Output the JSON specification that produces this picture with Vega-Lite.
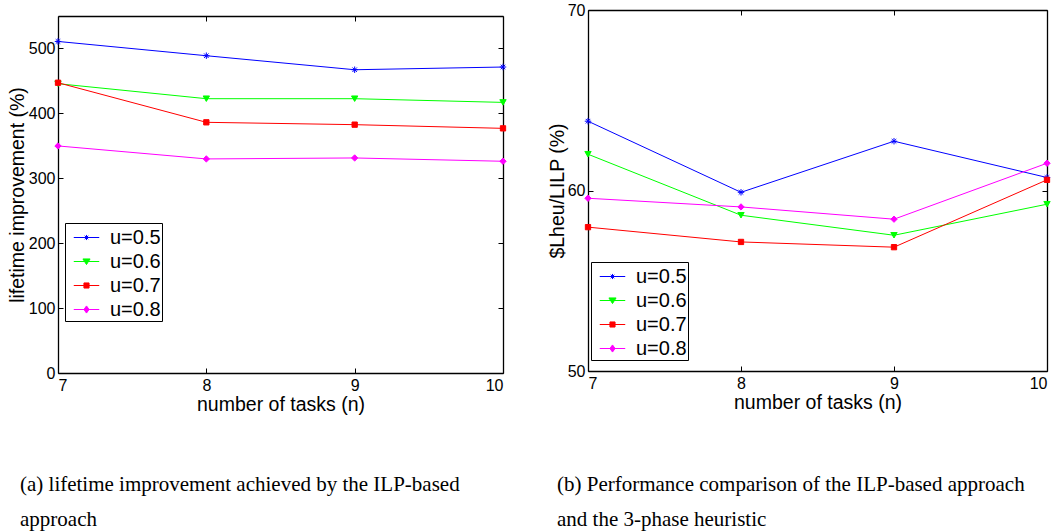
{
  "$schema": "https://vega.github.io/schema/vega-lite/v6.json",
  "background": "white",
  "padding": {"left": 7, "top": 2, "right": 5, "bottom": 5},
  "config": {
    "font": "Liberation Sans",
    "view": {"stroke": null},
    "axis": {
      "grid": false,
      "domainColor": "black",
      "domainWidth": 1.3,
      "tickColor": "black",
      "tickWidth": 1,
      "tickSize": -5,
      "labelPadding": 8,
      "labelColor": "black",
      "labelFont": "Liberation Sans",
      "labelFontSize": 16,
      "titleColor": "black",
      "titleFont": "Liberation Sans",
      "titleFontSize": 19.5,
      "titleFontWeight": "normal"
    },
    "legend": {
      "strokeColor": "black",
      "fillColor": "white",
      "padding": 1,
      "symbolOffset": 7,
      "rowPadding": 0,
      "labelOffset": 10,
      "symbolSize": 650,
      "symbolStrokeWidth": 1,
      "labelFont": "Liberation Sans",
      "labelFontSize": 20,
      "labelColor": "black"
    },
    "title": {
      "font": "Liberation Serif",
      "fontSize": 21,
      "fontWeight": "normal",
      "color": "black"
    }
  },
  "datasets": {
    "a": [
      {"n": 7, "u": "u=0.5", "v": 510.8}, {"n": 8, "u": "u=0.5", "v": 488.8}, {"n": 9, "u": "u=0.5", "v": 467.2}, {"n": 10, "u": "u=0.5", "v": 471.4},
      {"n": 7, "u": "u=0.6", "v": 445.7}, {"n": 8, "u": "u=0.6", "v": 422.6}, {"n": 9, "u": "u=0.6", "v": 422.6}, {"n": 10, "u": "u=0.6", "v": 416.9},
      {"n": 7, "u": "u=0.7", "v": 447.2}, {"n": 8, "u": "u=0.7", "v": 386.2}, {"n": 9, "u": "u=0.7", "v": 382.6}, {"n": 10, "u": "u=0.7", "v": 376.9},
      {"n": 7, "u": "u=0.8", "v": 349.8}, {"n": 8, "u": "u=0.8", "v": 329.8}, {"n": 9, "u": "u=0.8", "v": 331.3}, {"n": 10, "u": "u=0.8", "v": 326.2}
    ],
    "b": [
      {"n": 7, "u": "u=0.5", "v": 63.84}, {"n": 8, "u": "u=0.5", "v": 59.9}, {"n": 9, "u": "u=0.5", "v": 62.73}, {"n": 10, "u": "u=0.5", "v": 60.72},
      {"n": 7, "u": "u=0.6", "v": 62.01}, {"n": 8, "u": "u=0.6", "v": 58.63}, {"n": 9, "u": "u=0.6", "v": 57.52}, {"n": 10, "u": "u=0.6", "v": 59.24},
      {"n": 7, "u": "u=0.7", "v": 57.97}, {"n": 8, "u": "u=0.7", "v": 57.15}, {"n": 9, "u": "u=0.7", "v": 56.86}, {"n": 10, "u": "u=0.7", "v": 60.59},
      {"n": 7, "u": "u=0.8", "v": 59.57}, {"n": 8, "u": "u=0.8", "v": 59.09}, {"n": 9, "u": "u=0.8", "v": 58.41}, {"n": 10, "u": "u=0.8", "v": 61.51}
    ]
  },
  "hconcat": [
    {
      "width": 445,
      "height": 363,
      "data": {"name": "a"},
      "title": {
        "text": ["(a) lifetime improvement achieved by the ILP-based", "approach"],
        "orient": "bottom",
        "anchor": "start",
        "frame": "group",
        "dx": -38,
        "offset": 60,
        "lineHeight": 35
      },
      "layer": [
        {
          "mark": {"type": "line", "strokeWidth": 1},
          "encoding": {
            "x": {"field": "n", "type": "quantitative", "scale": {"domain": [7, 10], "nice": false},
                  "axis": {"orient": "bottom", "values": [7, 8, 9, 10], "format": "d", "title": "number of tasks (n)", "titlePadding": 2, "labelPadding": 9}},
            "y": {"field": "v", "type": "quantitative", "scale": {"domain": [0, 550], "nice": false, "range": [363, 6]},
                  "axis": {"orient": "left", "values": [0, 100, 200, 300, 400, 500], "title": "lifetime improvement (%)", "titlePadding": 1}},
            "stroke": {"field": "u", "type": "nominal",
                       "scale": {"domain": ["u=0.5", "u=0.6", "u=0.7", "u=0.8"], "range": ["#0000ff", "#00ff00", "#ff0000", "#ff00ff"]},
                       "legend": {"orient": "none", "legendX": 7, "legendY": 213, "title": null}}
          }
        },
        {
          "transform": [{"filter": "datum.u === 'u=0.5'"}],
          "mark": {"type": "point", "shape": "M-1,0L1,0M0,-1L0,1M-0.7,-0.7L0.7,0.7M-0.7,0.7L0.7,-0.7", "filled": false, "stroke": "#0000ff", "strokeWidth": 1, "size": 42, "opacity": 1},
          "encoding": {
            "x": {"field": "n", "type": "quantitative", "axis": {"orient": "top", "values": [7, 8, 9, 10], "labels": false, "title": null, "offset": -6}},
            "y": {"field": "v", "type": "quantitative", "axis": {"orient": "right", "values": [0, 100, 200, 300, 400, 500], "labels": false, "title": null}}
          }
        },
        {
          "transform": [{"filter": "datum.u === 'u=0.6'"}],
          "mark": {"type": "point", "shape": "triangle-down", "filled": true, "fill": "#00ff00", "stroke": "#00ff00", "strokeWidth": 1, "size": 40, "opacity": 1},
          "encoding": {
            "x": {"field": "n", "type": "quantitative", "axis": null},
            "y": {"field": "v", "type": "quantitative", "axis": null}
          }
        },
        {
          "transform": [{"filter": "datum.u === 'u=0.7'"}],
          "mark": {"type": "point", "shape": "square", "filled": true, "fill": "#ff0000", "stroke": "#ff0000", "strokeWidth": 1, "size": 28, "opacity": 1},
          "encoding": {
            "x": {"field": "n", "type": "quantitative", "axis": null},
            "y": {"field": "v", "type": "quantitative", "axis": null}
          }
        },
        {
          "transform": [{"filter": "datum.u === 'u=0.8'"}],
          "mark": {"type": "point", "shape": "diamond", "filled": true, "fill": "#ff00ff", "stroke": "#ff00ff", "strokeWidth": 1, "size": 40, "opacity": 1},
          "encoding": {
            "x": {"field": "n", "type": "quantitative", "axis": null},
            "y": {"field": "v", "type": "quantitative", "axis": null}
          }
        },
        {
          "transform": [{"filter": "false"}],
          "mark": {"type": "point", "filled": true, "strokeWidth": 1, "opacity": 1},
          "encoding": {
            "x": {"field": "n", "type": "quantitative", "axis": null},
            "y": {"field": "v", "type": "quantitative", "axis": null},
            "fill": {"field": "u", "type": "nominal",
                     "scale": {"domain": ["u=0.5", "u=0.6", "u=0.7", "u=0.8"], "range": ["#0000ff", "#00ff00", "#ff0000", "#ff00ff"]},
                     "legend": {"orient": "none", "legendX": 7, "legendY": 213, "title": null}},
            "stroke": {"field": "u", "type": "nominal",
                       "legend": {"orient": "none", "legendX": 7, "legendY": 213, "title": null}},
            "shape": {"field": "u", "type": "nominal",
                      "scale": {"domain": ["u=0.5", "u=0.6", "u=0.7", "u=0.8"],
                                "range": ["M-1,0H1M-0.2,0H0.2M0,-0.2V0.2M-0.14,-0.14L0.14,0.14M-0.14,0.14L0.14,-0.14",
                                          "M-1,0H1M-0.28,-0.2H0.28L0,0.24Z",
                                          "M-1,0H1M-0.2,-0.2H0.2V0.2H-0.2Z",
                                          "M-1,0H1M0,-0.28L0.2,0L0,0.28L-0.2,0Z"]},
                      "legend": {"orient": "none", "legendX": 7, "legendY": 213, "title": null}}
          }
        }
      ],
      "resolve": {"axis": {"x": "independent", "y": "independent"}}
    },
    {
      "width": 459,
      "height": 361,
      "data": {"name": "b"},
      "title": {
        "text": ["(b) Performance comparison of the ILP-based approach", "and the 3-phase heuristic"],
        "orient": "bottom",
        "anchor": "start",
        "frame": "group",
        "dx": -31,
        "offset": 62,
        "lineHeight": 35
      },
      "layer": [
        {
          "mark": {"type": "line", "strokeWidth": 1},
          "encoding": {
            "x": {"field": "n", "type": "quantitative", "scale": {"domain": [7, 10], "nice": false},
                  "axis": {"orient": "bottom", "values": [7, 8, 9, 10], "format": "d", "title": "number of tasks (n)", "titlePadding": 2, "labelPadding": 9}},
            "y": {"field": "v", "type": "quantitative", "scale": {"domain": [50, 70], "nice": false, "zero": false},
                  "axis": {"orient": "left", "values": [50, 60, 70], "title": "$Lheu/LILP (%)", "titlePadding": 0}},
            "stroke": {"field": "u", "type": "nominal",
                       "scale": {"domain": ["u=0.5", "u=0.6", "u=0.7", "u=0.8"], "range": ["#0000ff", "#00ff00", "#ff0000", "#ff00ff"]},
                       "legend": {"orient": "none", "legendX": 3, "legendY": 252, "title": null}}
          }
        },
        {
          "transform": [{"filter": "datum.u === 'u=0.5'"}],
          "mark": {"type": "point", "shape": "M-1,0L1,0M0,-1L0,1M-0.7,-0.7L0.7,0.7M-0.7,0.7L0.7,-0.7", "filled": false, "stroke": "#0000ff", "strokeWidth": 1, "size": 42, "opacity": 1},
          "encoding": {
            "x": {"field": "n", "type": "quantitative", "axis": {"orient": "top", "values": [7, 8, 9, 10], "labels": false, "title": null}},
            "y": {"field": "v", "type": "quantitative", "axis": {"orient": "right", "values": [50, 60, 70], "labels": false, "title": null}}
          }
        },
        {
          "transform": [{"filter": "datum.u === 'u=0.6'"}],
          "mark": {"type": "point", "shape": "triangle-down", "filled": true, "fill": "#00ff00", "stroke": "#00ff00", "strokeWidth": 1, "size": 40, "opacity": 1},
          "encoding": {
            "x": {"field": "n", "type": "quantitative", "axis": null},
            "y": {"field": "v", "type": "quantitative", "axis": null}
          }
        },
        {
          "transform": [{"filter": "datum.u === 'u=0.7'"}],
          "mark": {"type": "point", "shape": "square", "filled": true, "fill": "#ff0000", "stroke": "#ff0000", "strokeWidth": 1, "size": 28, "opacity": 1},
          "encoding": {
            "x": {"field": "n", "type": "quantitative", "axis": null},
            "y": {"field": "v", "type": "quantitative", "axis": null}
          }
        },
        {
          "transform": [{"filter": "datum.u === 'u=0.8'"}],
          "mark": {"type": "point", "shape": "diamond", "filled": true, "fill": "#ff00ff", "stroke": "#ff00ff", "strokeWidth": 1, "size": 40, "opacity": 1},
          "encoding": {
            "x": {"field": "n", "type": "quantitative", "axis": null},
            "y": {"field": "v", "type": "quantitative", "axis": null}
          }
        },
        {
          "transform": [{"filter": "false"}],
          "mark": {"type": "point", "filled": true, "strokeWidth": 1, "opacity": 1},
          "encoding": {
            "x": {"field": "n", "type": "quantitative", "axis": null},
            "y": {"field": "v", "type": "quantitative", "axis": null},
            "fill": {"field": "u", "type": "nominal",
                     "scale": {"domain": ["u=0.5", "u=0.6", "u=0.7", "u=0.8"], "range": ["#0000ff", "#00ff00", "#ff0000", "#ff00ff"]},
                     "legend": {"orient": "none", "legendX": 3, "legendY": 252, "title": null}},
            "stroke": {"field": "u", "type": "nominal",
                       "legend": {"orient": "none", "legendX": 3, "legendY": 252, "title": null}},
            "shape": {"field": "u", "type": "nominal",
                      "scale": {"domain": ["u=0.5", "u=0.6", "u=0.7", "u=0.8"],
                                "range": ["M-1,0H1M-0.2,0H0.2M0,-0.2V0.2M-0.14,-0.14L0.14,0.14M-0.14,0.14L0.14,-0.14",
                                          "M-1,0H1M-0.28,-0.2H0.28L0,0.24Z",
                                          "M-1,0H1M-0.2,-0.2H0.2V0.2H-0.2Z",
                                          "M-1,0H1M0,-0.28L0.2,0L0,0.28L-0.2,0Z"]},
                      "legend": {"orient": "none", "legendX": 3, "legendY": 252, "title": null}}
          }
        }
      ],
      "resolve": {"axis": {"x": "independent", "y": "independent"}}
    }
  ],
  "resolve": {
    "scale": {"stroke": "independent", "fill": "independent", "shape": "independent"},
    "legend": {"stroke": "independent", "fill": "independent", "shape": "independent"}
  },
  "spacing": 85,
  "bounds": "flush"
}
